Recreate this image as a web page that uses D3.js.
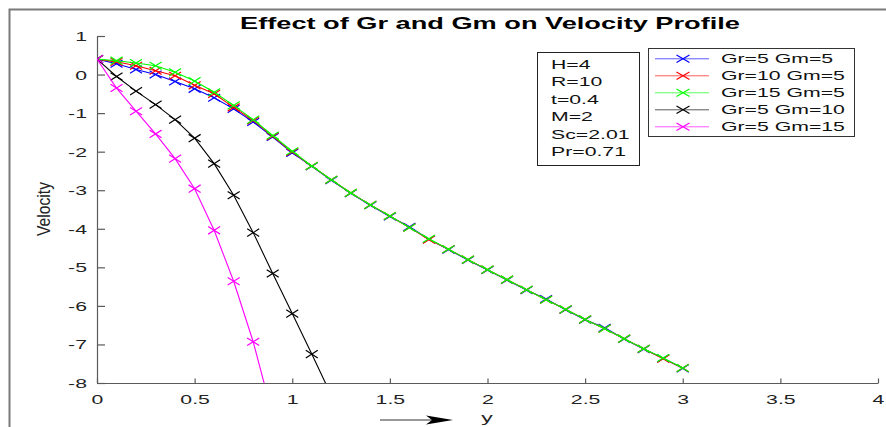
<!DOCTYPE html>
<html>
<head>
<meta charset="utf-8">
<script src="https://cdn.jsdelivr.net/npm/d3@7"></script>
<style>
  body { margin: 0; background: #fff; }
  text { font-family: "Liberation Sans", Arial, Helvetica, sans-serif; }
</style>
</head>
<body>
<svg id="chart" width="886" height="427"></svg>
<script>
// y positions (x-axis variable) and velocity values
const yGrid = [0, 0.1, 0.2, 0.3, 0.4, 0.5, 0.6, 0.7, 0.8, 0.9, 1.0,
  1.1, 1.2, 1.3, 1.4, 1.5, 1.6, 1.7, 1.8, 1.9, 2.0,
  2.1, 2.2, 2.3, 2.4, 2.5, 2.6, 2.7, 2.8, 2.9, 3.0]

const velGr5Gm5 = [0.4, 0.28, 0.13, 0.0, -0.18, -0.37, -0.60, -0.89, -1.23, -1.62, -2.03,
  -2.38, -2.74, -3.08, -3.39, -3.68, -3.95, -4.27, -4.54, -4.81, -5.07,
  -5.33, -5.59, -5.82, -6.10, -6.36, -6.57, -6.86, -7.12, -7.36, -7.62]
const velGr10Gm5 = [0.4, 0.33, 0.23, 0.10, -0.03, -0.28, -0.50, -0.85, -1.19, -1.60, -2.01,
  -2.37, -2.73, -3.07, -3.38, -3.67, -3.97, -4.28, -4.53, -4.80, -5.06,
  -5.32, -5.58, -5.84, -6.09, -6.35, -6.59, -6.85, -7.11, -7.37, -7.61]
const velGr15Gm5 = [0.4, 0.36, 0.30, 0.23, 0.06, -0.17, -0.46, -0.80, -1.17, -1.58, -1.99,
  -2.37, -2.73, -3.07, -3.38, -3.67, -3.97, -4.26, -4.53, -4.80, -5.06,
  -5.32, -5.58, -5.84, -6.09, -6.35, -6.59, -6.85, -7.11, -7.35, -7.61]
const velGr5Gm10 = [0.4, -0.05, -0.43, -0.78, -1.17, -1.65, -2.31, -3.13, -4.10, -5.16, -6.20, -7.25, -8.32]
const velGr5Gm15 = [0.4, -0.35, -0.95, -1.54, -2.18, -2.96, -4.04, -5.36, -6.93, -8.85]

const seriesNames = ['Gr=5 Gm=5', 'Gr=10 Gm=5', 'Gr=15 Gm=5', 'Gr=5 Gm=10', 'Gr=5 Gm=15']
const seriesValues = [velGr5Gm5, velGr10Gm5, velGr15Gm5, velGr5Gm10, velGr5Gm15]
const seriesColors = ['#0000ff', '#ff0000', '#00ff00', '#000000', '#ff00ff']

const paramLines = ['H=4', 'R=10', 't=0.4', 'M=2', 'Sc=2.01', 'Pr=0.71']
const xTicks = [0, 0.5, 1, 1.5, 2, 2.5, 3, 3.5, 4]
const yTicks = [1, 0, -1, -2, -3, -4, -5, -6, -7, -8]

// the picture is stretched sideways, so horizontal text is too
const SX = 1.7

const svg = d3.select('#chart')
svg.append('rect').attr('width', 886).attr('height', 427).attr('fill', '#fff')

// figure frame (only left and top show)
svg.append('path')
	.attr('d', 'M9.5,427 L9.5,9.5 L886,9.5')
	.attr('fill', 'none')
	.attr('stroke', '#7a7a7a')
	.attr('stroke-width', 2)

const plot = { left: 97, right: 878, top: 36, bottom: 383 }

const x = d3.scaleLinear().domain([0, 4]).range([plot.left, plot.right])
const y = d3.scaleLinear().domain([-8, 1]).range([plot.bottom, plot.top])

function wideText(parent, px, py, str, opts = {}) {
	const g = parent.append('g')
		.attr('transform', `translate(${px},${py}) scale(${opts.sx || SX},1)`)
	return g.append('text')
		.attr('x', 0)
		.attr('y', 0)
		.attr('font-size', opts.size || 12.5)
		.attr('font-weight', opts.weight || 'normal')
		.attr('text-anchor', opts.anchor || 'start')
		.attr('fill', opts.fill || '#111')
		.text(str)
}

// plain hyphen minus, like the original
const fmt = d => String(d)

// axes
const yAxis = d3.axisLeft(y).tickValues(yTicks).tickSizeInner(-8).tickSizeOuter(0).tickPadding(10)
	.tickFormat(fmt)
const xAxis = d3.axisBottom(x).tickValues(xTicks).tickSizeInner(-4.5).tickSizeOuter(0).tickPadding(12)
	.tickFormat(fmt)

const gy = svg.append('g').attr('transform', `translate(${plot.left},0)`).call(yAxis)
const gx = svg.append('g').attr('transform', `translate(0,${plot.bottom})`).call(xAxis)

;[gx, gy].forEach(g => {
	g.select('.domain').attr('stroke', '#5a5a5a').attr('stroke-width', 1.2)
	g.selectAll('.tick line').attr('stroke', '#5a5a5a').attr('stroke-width', 1.2)
	g.selectAll('.tick text')
		.attr('font-family', '"Liberation Sans", Arial, Helvetica, sans-serif')
		.attr('font-size', 12.5)
		.attr('fill', '#222')
})
gy.selectAll('.tick text')
	.attr('x', 0)
	.attr('dy', '0.36em')
	.attr('transform', `translate(-10,0) scale(${SX},1)`)
gx.selectAll('.tick text')
	.attr('y', 0)
	.attr('dy', 0)
	.attr('transform', `translate(0,21) scale(${SX},1)`)

// title
wideText(svg, 490, 28.5, 'Effect of Gr and Gm on Velocity Profile', { size: 16, weight: 'bold', anchor: 'middle', fill: '#000' })

// y label
svg.append('text')
	.attr('transform', `translate(50,209) rotate(-90)`)
	.attr('text-anchor', 'middle')
	.attr('font-size', 17.5)
	.attr('textLength', 54)
	.attr('lengthAdjust', 'spacingAndGlyphs')
	.attr('fill', '#222')
	.text('Velocity')

// x label with arrow
svg.append('line')
	.attr('x1', 380).attr('x2', 440).attr('y1', 420).attr('y2', 420)
	.attr('stroke', '#333').attr('stroke-width', 1.2)
svg.append('path')
	.attr('d', 'M426,415.5 L453,420 L426,424.5 L432,420 Z')
	.attr('fill', '#000')
wideText(svg, 487, 422, 'y', { size: 13.5, anchor: 'middle', fill: '#222' })

// data lines
svg.append('clipPath').attr('id', 'plotClip')
	.append('rect')
	.attr('x', plot.left).attr('y', plot.top)
	.attr('width', plot.right - plot.left).attr('height', plot.bottom - plot.top)

const dataLayer = svg.append('g').attr('clip-path', 'url(#plotClip)')
const line = d3.line().x(d => x(d[0])).y(d => y(d[1]))

function crossPath(cx, cy, hw, hh) {
	return `M${cx - hw},${cy - hh} L${cx + hw},${cy + hh} M${cx - hw},${cy + hh} L${cx + hw},${cy - hh}`
}

seriesValues.forEach((vals, i) => {
	const pts = vals.map((v, j) => [yGrid[j], v])
	dataLayer.append('path')
		.attr('d', line(pts))
		.attr('fill', 'none')
		.attr('stroke', seriesColors[i])
		.attr('stroke-width', 1.1)
	dataLayer.append('g')
		.selectAll('path')
		.data(pts)
		.join('path')
		.attr('d', d => crossPath(x(d[0]), y(d[1]), 6, 3.8))
		.attr('stroke', seriesColors[i])
		.attr('stroke-width', 1.2)
		.attr('fill', 'none')
})

// parameters box
const pBox = svg.append('g')
pBox.append('rect')
	.attr('x', 537.5).attr('y', 52.5).attr('width', 102).attr('height', 113)
	.attr('fill', '#fff').attr('stroke', '#222').attr('stroke-width', 1)
paramLines.forEach((t, i) => {
	wideText(pBox, 551, 69 + i * 17.4, t, { size: 12.5, fill: '#111' })
})

// legend
const leg = svg.append('g')
leg.append('rect')
	.attr('x', 648.5).attr('y', 48.5).attr('width', 206).attr('height', 88)
	.attr('fill', '#fff').attr('stroke', '#333').attr('stroke-width', 1)
seriesNames.forEach((name, i) => {
	const cy = 58.8 + i * 17
	leg.append('line')
		.attr('x1', 655).attr('x2', 709).attr('y1', cy).attr('y2', cy)
		.attr('stroke', seriesColors[i]).attr('stroke-width', 1)
		.attr('stroke-opacity', 0.65)
	leg.append('path')
		.attr('d', crossPath(683, cy, 6.5, 3.7))
		.attr('stroke', seriesColors[i]).attr('stroke-width', 1.2)
	wideText(leg, 721, cy + 4.5, name, { size: 12.5, fill: '#111' })
})
</script>
</body>
</html>
